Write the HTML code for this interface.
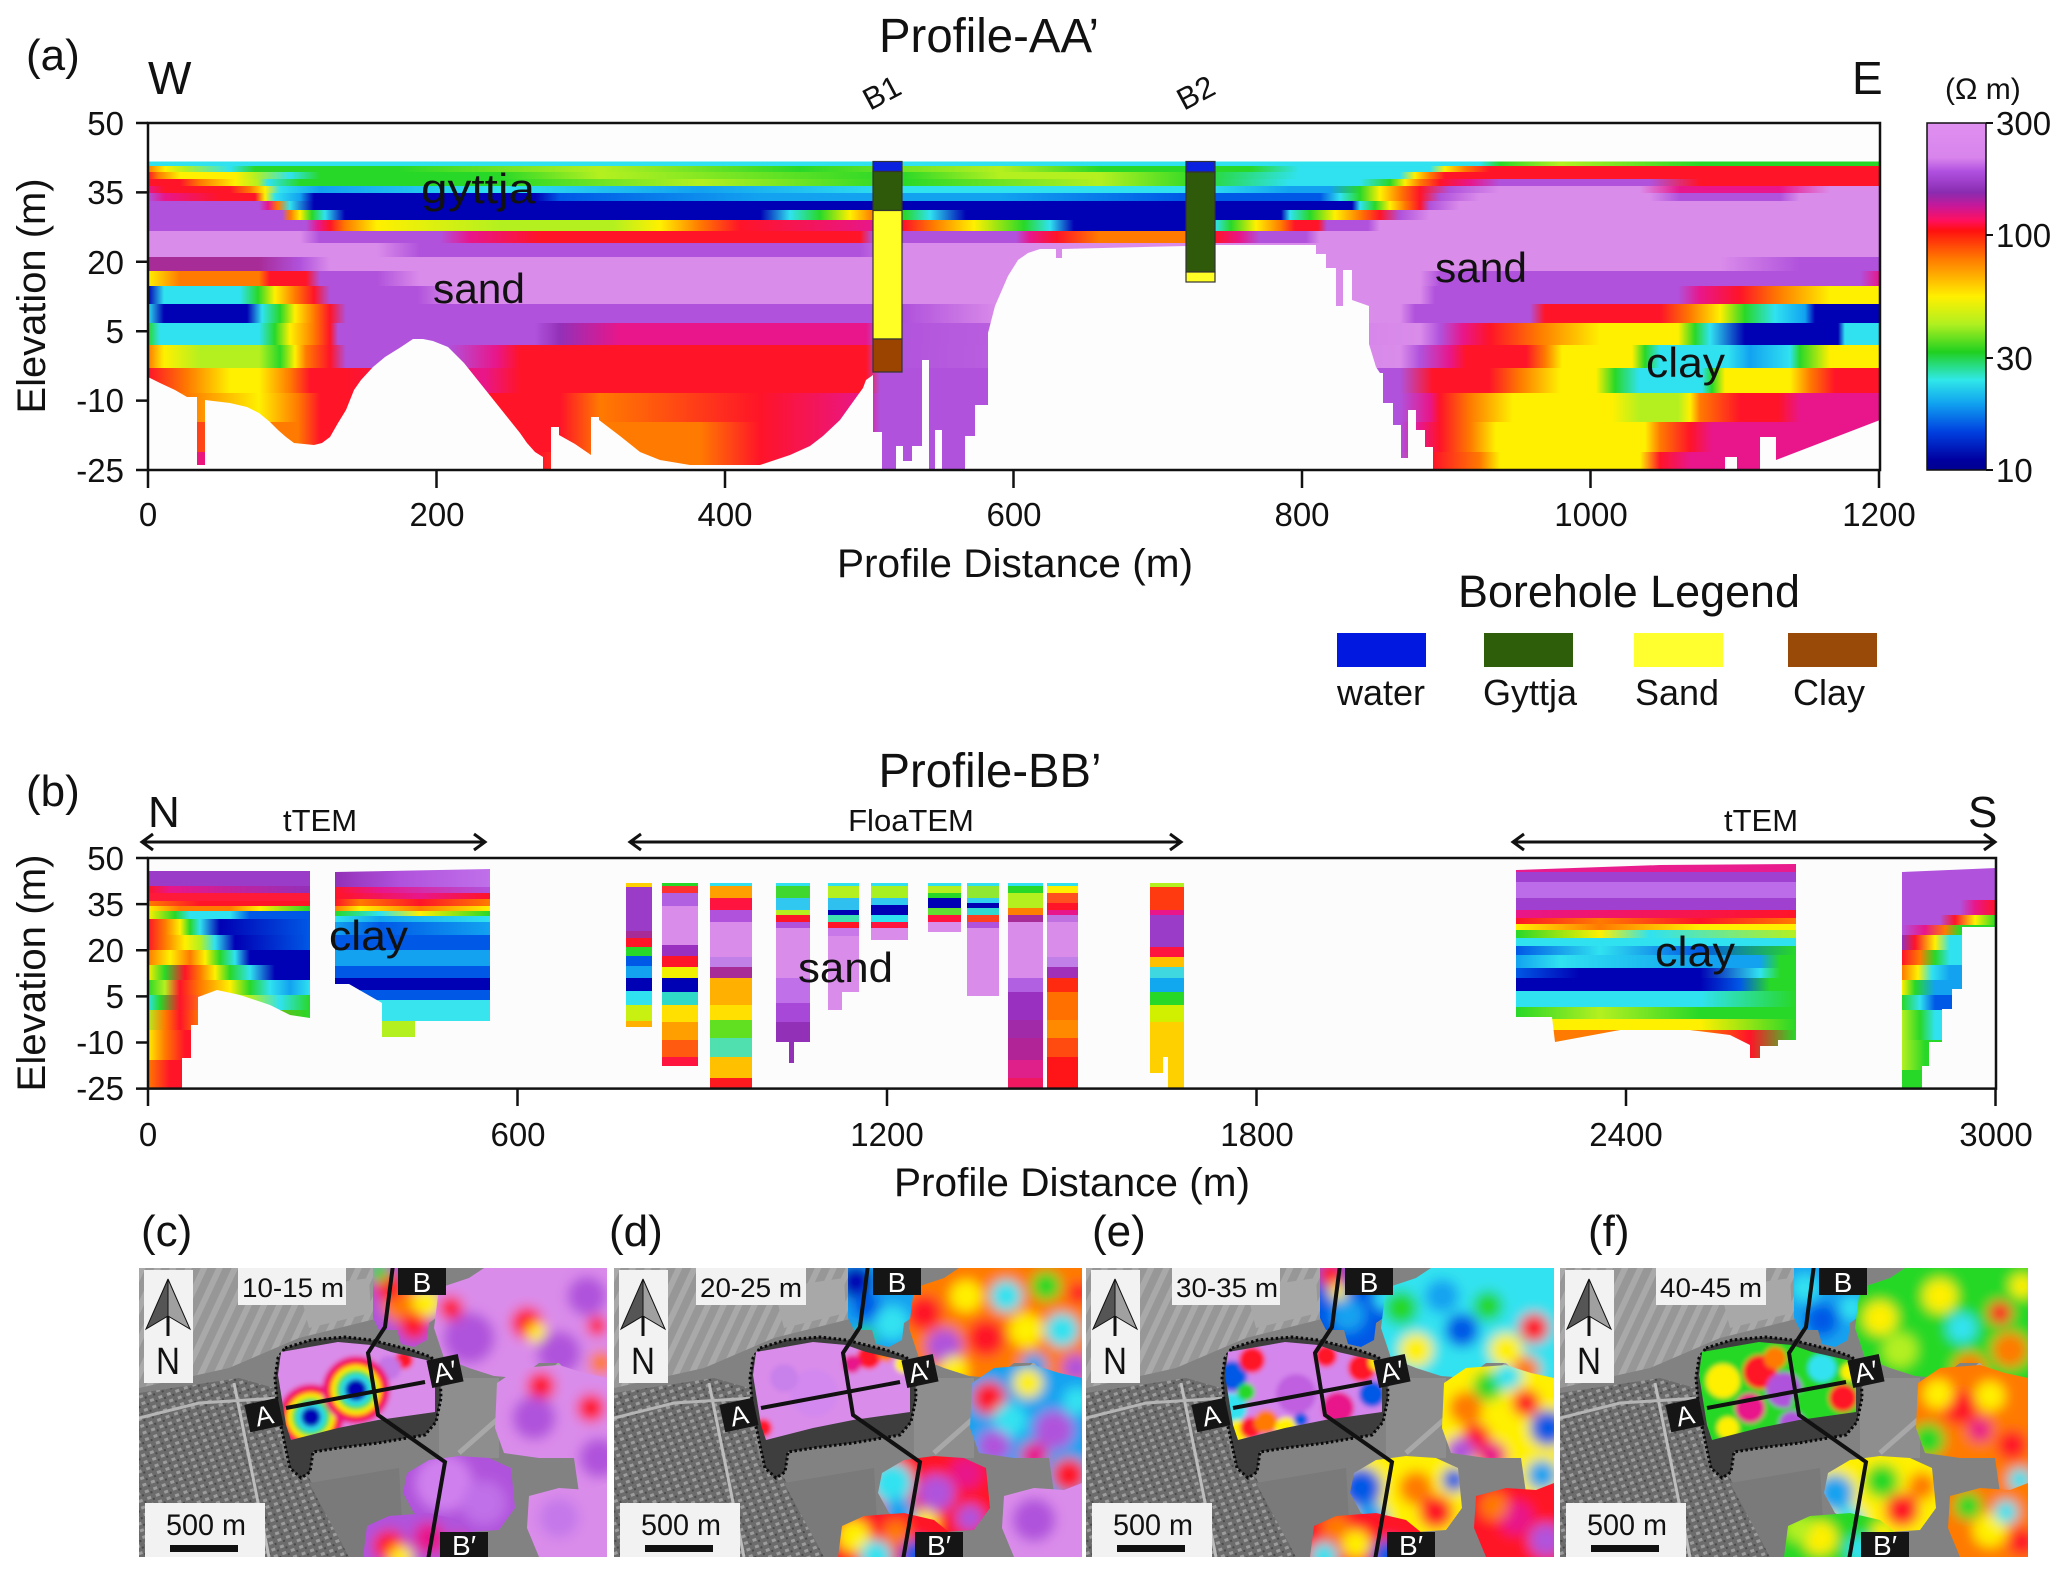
<!DOCTYPE html>
<html><head><meta charset="utf-8">
<style>
html,body{margin:0;padding:0;background:#fff;}
svg{display:block;}
.P{stop-color:#da8cea}.PU{stop-color:#b052dc}.DP{stop-color:#9330b8}.DM{stop-color:#a82c98}.MG{stop-color:#e8168a}.R{stop-color:#ff1428}.O{stop-color:#ff7a00}.Y{stop-color:#fff000}.YG{stop-color:#b4f020}.G{stop-color:#28d828}.C{stop-color:#30e2f0}.LB{stop-color:#12a2f0}.B{stop-color:#0058e6}.DB{stop-color:#0000b4}
text{font-family:"Liberation Sans",sans-serif;fill:#111;}
.w{fill:#fff;}
</style></head><body>
<svg width="2067" height="1578" viewBox="0 0 2067 1578" xmlns="http://www.w3.org/2000/svg" xmlns:xlink="http://www.w3.org/1999/xlink">
<defs>
<linearGradient id="a0" gradientUnits="userSpaceOnUse" x1="0" x2="2000" y1="0" y2="0"><stop offset=".074" class="C"/><stop offset=".74" class="C"/><stop offset=".75" class="G"/><stop offset=".78" class="YG"/><stop offset=".85" class="G"/><stop offset=".94" class="G"/></linearGradient>
<linearGradient id="a1" gradientUnits="userSpaceOnUse" x1="0" x2="2000" y1="0" y2="0"><stop offset=".074" class="O"/><stop offset=".0825" class="Y"/><stop offset=".0925" class="YG"/><stop offset=".115" class="C"/><stop offset=".1275" class="G"/><stop offset=".2" class="G"/><stop offset=".3" class="YG"/><stop offset=".4" class="G"/><stop offset=".5" class="YG"/><stop offset=".55" class="G"/><stop offset=".625" class="G"/><stop offset=".65" class="C"/><stop offset=".715" class="C"/><stop offset=".7225" class="Y"/><stop offset=".7325" class="O"/><stop offset=".745" class="R"/><stop offset=".94" class="R"/></linearGradient>
<linearGradient id="a2" gradientUnits="userSpaceOnUse" x1="0" x2="2000" y1="0" y2="0"><stop offset=".074" class="R"/><stop offset=".079" class="O"/><stop offset=".09" class="Y"/><stop offset=".1175" class="Y"/><stop offset=".1275" class="YG"/><stop offset=".145" class="C"/><stop offset=".16" class="G"/><stop offset=".25" class="G"/><stop offset=".3" class="YG"/><stop offset=".45" class="G"/><stop offset=".5" class="YG"/><stop offset=".55" class="YG"/><stop offset=".6" class="G"/><stop offset=".65" class="C"/><stop offset=".7" class="C"/><stop offset=".7075" class="Y"/><stop offset=".715" class="O"/><stop offset=".7225" class="R"/><stop offset=".94" class="R"/></linearGradient>
<linearGradient id="a3" gradientUnits="userSpaceOnUse" x1="0" x2="2000" y1="0" y2="0"><stop offset=".074" class="R"/><stop offset=".09" class="R"/><stop offset=".1" class="O"/><stop offset=".1175" class="Y"/><stop offset=".129" class="YG"/><stop offset=".134" class="C"/><stop offset=".15" class="G"/><stop offset=".25" class="G"/><stop offset=".35" class="YG"/><stop offset=".45" class="G"/><stop offset=".55" class="YG"/><stop offset=".6" class="G"/><stop offset=".645" class="C"/><stop offset=".68" class="C"/><stop offset=".695" class="G"/><stop offset=".7025" class="Y"/><stop offset=".71" class="O"/><stop offset=".72" class="R"/><stop offset=".735" class="MG"/><stop offset=".75" class="PU"/><stop offset=".825" class="PU"/><stop offset=".85" class="R"/><stop offset=".94" class="R"/></linearGradient>
<linearGradient id="a4" gradientUnits="userSpaceOnUse" x1="0" x2="2000" y1="0" y2="0"><stop offset=".074" class="MG"/><stop offset=".0825" class="R"/><stop offset=".115" class="R"/><stop offset=".125" class="O"/><stop offset=".1325" class="Y"/><stop offset=".14" class="C"/><stop offset=".16" class="LB"/><stop offset=".25" class="C"/><stop offset=".35" class="LB"/><stop offset=".45" class="C"/><stop offset=".6" class="C"/><stop offset=".645" class="LB"/><stop offset=".665" class="LB"/><stop offset=".68" class="G"/><stop offset=".69" class="Y"/><stop offset=".7" class="O"/><stop offset=".71" class="R"/><stop offset=".725" class="PU"/><stop offset=".75" class="P"/><stop offset=".82" class="P"/><stop offset=".84" class="MG"/><stop offset=".89" class="MG"/><stop offset=".915" class="P"/><stop offset=".94" class="P"/></linearGradient>
<linearGradient id="a5" gradientUnits="userSpaceOnUse" x1="0" x2="2000" y1="0" y2="0"><stop offset=".074" class="PU"/><stop offset=".0825" class="MG"/><stop offset=".11" class="R"/><stop offset=".1275" class="R"/><stop offset=".1325" class="Y"/><stop offset=".1375" class="C"/><stop offset=".15" class="LB"/><stop offset=".157" class="DB"/><stop offset=".2675" class="DB"/><stop offset=".28" class="B"/><stop offset=".38" class="LB"/><stop offset=".5" class="LB"/><stop offset=".593" class="B"/><stop offset=".66" class="B"/><stop offset=".67" class="C"/><stop offset=".68" class="G"/><stop offset=".69" class="Y"/><stop offset=".7" class="O"/><stop offset=".71" class="R"/><stop offset=".72" class="PU"/><stop offset=".74" class="P"/><stop offset=".825" class="P"/><stop offset=".84" class="PU"/><stop offset=".89" class="PU"/><stop offset=".9" class="P"/><stop offset=".94" class="P"/></linearGradient>
<linearGradient id="a6" gradientUnits="userSpaceOnUse" x1="0" x2="2000" y1="0" y2="0"><stop offset=".074" class="PU"/><stop offset=".1295" class="PU"/><stop offset=".134" class="MG"/><stop offset=".139" class="O"/><stop offset=".145" class="C"/><stop offset=".157" class="DB"/><stop offset=".676" class="DB"/><stop offset=".68" class="C"/><stop offset=".6875" class="G"/><stop offset=".695" class="Y"/><stop offset=".7025" class="O"/><stop offset=".71" class="R"/><stop offset=".715" class="PU"/><stop offset=".73" class="P"/><stop offset=".94" class="P"/></linearGradient>
<linearGradient id="a7" gradientUnits="userSpaceOnUse" x1="0" x2="2000" y1="0" y2="0"><stop offset=".074" class="PU"/><stop offset=".141" class="PU"/><stop offset=".145" class="O"/><stop offset=".15" class="Y"/><stop offset=".156" class="G"/><stop offset=".1625" class="C"/><stop offset=".1725" class="DB"/><stop offset=".38" class="DB"/><stop offset=".395" class="C"/><stop offset=".41" class="G"/><stop offset=".425" class="Y"/><stop offset=".4365" class="O"/><stop offset=".452" class="G"/><stop offset=".465" class="C"/><stop offset=".483" class="DB"/><stop offset=".6405" class="DB"/><stop offset=".645" class="C"/><stop offset=".655" class="G"/><stop offset=".6675" class="Y"/><stop offset=".68" class="O"/><stop offset=".69" class="R"/><stop offset=".7" class="PU"/><stop offset=".715" class="P"/><stop offset=".94" class="P"/></linearGradient>
<linearGradient id="a8" gradientUnits="userSpaceOnUse" x1="0" x2="2000" y1="0" y2="0"><stop offset=".074" class="PU"/><stop offset=".153" class="PU"/><stop offset=".159" class="MG"/><stop offset=".165" class="R"/><stop offset=".1725" class="O"/><stop offset=".1885" class="Y"/><stop offset=".25" class="YG"/><stop offset=".307" class="YG"/><stop offset=".33" class="Y"/><stop offset=".35" class="O"/><stop offset=".37" class="R"/><stop offset=".4365" class="MG"/><stop offset=".452" class="R"/><stop offset=".4665" class="O"/><stop offset=".487" class="Y"/><stop offset=".512" class="G"/><stop offset=".525" class="C"/><stop offset=".537" class="DB"/><stop offset=".593" class="DB"/><stop offset=".6075" class="C"/><stop offset=".6155" class="G"/><stop offset=".628" class="Y"/><stop offset=".6405" class="O"/><stop offset=".6475" class="R"/><stop offset=".659" class="R"/><stop offset=".6635" class="PU"/><stop offset=".684" class="PU"/><stop offset=".69" class="P"/><stop offset=".94" class="P"/></linearGradient>
<linearGradient id="a9" gradientUnits="userSpaceOnUse" x1="0" x2="2000" y1="0" y2="0"><stop offset=".074" class="P"/><stop offset=".15" class="P"/><stop offset=".16" class="PU"/><stop offset=".22" class="PU"/><stop offset=".235" class="MG"/><stop offset=".27" class="R"/><stop offset=".43" class="R"/><stop offset=".4365" class="PU"/><stop offset=".508" class="PU"/><stop offset=".515" class="MG"/><stop offset=".5285" class="R"/><stop offset=".5495" class="O"/><stop offset=".593" class="O"/><stop offset=".6075" class="R"/><stop offset=".62" class="MG"/><stop offset=".63" class="PU"/><stop offset=".653" class="PU"/><stop offset=".66" class="P"/><stop offset=".94" class="P"/></linearGradient>
<linearGradient id="a10" gradientUnits="userSpaceOnUse" x1="0" x2="2000" y1="0" y2="0"><stop offset=".074" class="P"/><stop offset=".1885" class="P"/><stop offset=".21" class="PU"/><stop offset=".43" class="PU"/><stop offset=".452" class="P"/><stop offset=".94" class="P"/></linearGradient>
<linearGradient id="a11" gradientUnits="userSpaceOnUse" x1="0" x2="2000" y1="0" y2="0"><stop offset=".074" class="DM"/><stop offset=".1295" class="DM"/><stop offset=".15" class="PU"/><stop offset=".165" class="P"/><stop offset=".86" class="P"/><stop offset=".9" class="PU"/><stop offset=".94" class="PU"/></linearGradient>
<linearGradient id="a12" gradientUnits="userSpaceOnUse" x1="0" x2="2000" y1="0" y2="0"><stop offset=".074" class="Y"/><stop offset=".09" class="O"/><stop offset=".1295" class="O"/><stop offset=".135" class="R"/><stop offset=".153" class="R"/><stop offset=".16" class="PU"/><stop offset=".1885" class="PU"/><stop offset=".21" class="P"/><stop offset=".71" class="P"/><stop offset=".72" class="PU"/><stop offset=".93" class="PU"/><stop offset=".94" class="MG"/></linearGradient>
<linearGradient id="a13" gradientUnits="userSpaceOnUse" x1="0" x2="2000" y1="0" y2="0"><stop offset=".074" class="DB"/><stop offset=".082" class="C"/><stop offset=".12" class="C"/><stop offset=".129" class="G"/><stop offset=".1375" class="Y"/><stop offset=".1475" class="O"/><stop offset=".157" class="R"/><stop offset=".165" class="PU"/><stop offset=".2085" class="PU"/><stop offset=".228" class="P"/><stop offset=".71" class="P"/><stop offset=".7175" class="PU"/><stop offset=".839" class="PU"/><stop offset=".85" class="MG"/><stop offset=".87" class="R"/><stop offset=".889" class="O"/><stop offset=".915" class="Y"/><stop offset=".94" class="Y"/></linearGradient>
<linearGradient id="a14" gradientUnits="userSpaceOnUse" x1="0" x2="2000" y1="0" y2="0"><stop offset=".074" class="C"/><stop offset=".082" class="DB"/><stop offset=".1235" class="DB"/><stop offset=".131" class="C"/><stop offset=".14" class="G"/><stop offset=".1475" class="Y"/><stop offset=".157" class="O"/><stop offset=".165" class="R"/><stop offset=".173" class="PU"/><stop offset=".452" class="PU"/><stop offset=".5" class="P"/><stop offset=".7" class="P"/><stop offset=".7075" class="PU"/><stop offset=".765" class="PU"/><stop offset=".7725" class="R"/><stop offset=".83" class="R"/><stop offset=".845" class="O"/><stop offset=".86" class="Y"/><stop offset=".8725" class="G"/><stop offset=".8875" class="C"/><stop offset=".9025" class="LB"/><stop offset=".9075" class="DB"/><stop offset=".94" class="DB"/></linearGradient>
<linearGradient id="a15" gradientUnits="userSpaceOnUse" x1="0" x2="2000" y1="0" y2="0"><stop offset=".074" class="G"/><stop offset=".08" class="C"/><stop offset=".1295" class="C"/><stop offset=".1375" class="G"/><stop offset=".145" class="Y"/><stop offset=".157" class="O"/><stop offset=".165" class="R"/><stop offset=".169" class="PU"/><stop offset=".2675" class="PU"/><stop offset=".28" class="DP"/><stop offset=".31" class="MG"/><stop offset=".433" class="MG"/><stop offset=".44" class="PU"/><stop offset=".71" class="P"/><stop offset=".72" class="PU"/><stop offset=".7315" class="MG"/><stop offset=".745" class="R"/><stop offset=".7695" class="O"/><stop offset=".8" class="Y"/><stop offset=".839" class="Y"/><stop offset=".8475" class="G"/><stop offset=".855" class="C"/><stop offset=".8725" class="DB"/><stop offset=".919" class="DB"/><stop offset=".9225" class="C"/><stop offset=".94" class="C"/></linearGradient>
<linearGradient id="a16" gradientUnits="userSpaceOnUse" x1="0" x2="2000" y1="0" y2="0"><stop offset=".074" class="O"/><stop offset=".082" class="Y"/><stop offset=".1" class="YG"/><stop offset=".1295" class="YG"/><stop offset=".14" class="G"/><stop offset=".1475" class="Y"/><stop offset=".153" class="O"/><stop offset=".165" class="R"/><stop offset=".173" class="PU"/><stop offset=".224" class="PU"/><stop offset=".248" class="MG"/><stop offset=".26" class="R"/><stop offset=".433" class="R"/><stop offset=".44" class="PU"/><stop offset=".7" class="P"/><stop offset=".71" class="PU"/><stop offset=".725" class="MG"/><stop offset=".733" class="R"/><stop offset=".763" class="R"/><stop offset=".7725" class="O"/><stop offset=".781" class="Y"/><stop offset=".816" class="Y"/><stop offset=".8225" class="G"/><stop offset=".83" class="C"/><stop offset=".864" class="C"/><stop offset=".875" class="LB"/><stop offset=".895" class="C"/><stop offset=".9" class="G"/><stop offset=".915" class="Y"/><stop offset=".94" class="Y"/></linearGradient>
<linearGradient id="a17" gradientUnits="userSpaceOnUse" x1="0" x2="2000" y1="0" y2="0"><stop offset=".074" class="R"/><stop offset=".0935" class="O"/><stop offset=".115" class="Y"/><stop offset=".1295" class="Y"/><stop offset=".145" class="O"/><stop offset=".155" class="R"/><stop offset=".173" class="R"/><stop offset=".242" class="MG"/><stop offset=".26" class="R"/><stop offset=".433" class="R"/><stop offset=".44" class="PU"/><stop offset=".7" class="PU"/><stop offset=".7165" class="R"/><stop offset=".7445" class="R"/><stop offset=".76" class="O"/><stop offset=".78" class="Y"/><stop offset=".798" class="Y"/><stop offset=".8075" class="G"/><stop offset=".8195" class="C"/><stop offset=".851" class="C"/><stop offset=".856" class="G"/><stop offset=".8625" class="Y"/><stop offset=".895" class="Y"/><stop offset=".905" class="O"/><stop offset=".9175" class="R"/><stop offset=".94" class="R"/></linearGradient>
<linearGradient id="a18" gradientUnits="userSpaceOnUse" x1="0" x2="2000" y1="0" y2="0"><stop offset=".074" class="O"/><stop offset=".0935" class="O"/><stop offset=".1295" class="Y"/><stop offset=".149" class="O"/><stop offset=".16" class="R"/><stop offset=".28" class="R"/><stop offset=".3" class="O"/><stop offset=".38" class="R"/><stop offset=".433" class="MG"/><stop offset=".44" class="PU"/><stop offset=".7" class="PU"/><stop offset=".715" class="MG"/><stop offset=".72" class="R"/><stop offset=".735" class="O"/><stop offset=".7565" class="Y"/><stop offset=".806" class="Y"/><stop offset=".82" class="YG"/><stop offset=".839" class="YG"/><stop offset=".845" class="Y"/><stop offset=".85" class="O"/><stop offset=".87" class="R"/><stop offset=".889" class="R"/><stop offset=".9" class="MG"/><stop offset=".94" class="MG"/></linearGradient>
<linearGradient id="a19" gradientUnits="userSpaceOnUse" x1="0" x2="2000" y1="0" y2="0"><stop offset=".074" class="R"/><stop offset=".1295" class="O"/><stop offset=".149" class="O"/><stop offset=".16" class="R"/><stop offset=".28" class="R"/><stop offset=".3" class="O"/><stop offset=".35" class="O"/><stop offset=".38" class="R"/><stop offset=".433" class="MG"/><stop offset=".44" class="PU"/><stop offset=".7" class="PU"/><stop offset=".71" class="MG"/><stop offset=".72" class="R"/><stop offset=".735" class="O"/><stop offset=".748" class="Y"/><stop offset=".8225" class="Y"/><stop offset=".83" class="O"/><stop offset=".845" class="R"/><stop offset=".856" class="MG"/><stop offset=".94" class="MG"/></linearGradient>
<linearGradient id="a20" gradientUnits="userSpaceOnUse" x1="0" x2="2000" y1="0" y2="0"><stop offset=".074" class="MG"/><stop offset=".27" class="R"/><stop offset=".3" class="O"/><stop offset=".35" class="O"/><stop offset=".38" class="R"/><stop offset=".433" class="MG"/><stop offset=".44" class="PU"/><stop offset=".7" class="PU"/><stop offset=".7165" class="R"/><stop offset=".74" class="O"/><stop offset=".75" class="Y"/><stop offset=".82" class="Y"/><stop offset=".83" class="R"/><stop offset=".845" class="MG"/><stop offset=".94" class="MG"/></linearGradient>

<linearGradient id="cb" x1="0" x2="0" y1="0" y2="1"><stop offset="0" stop-color="#e090f0"/><stop offset=".1" stop-color="#d884ec"/><stop offset=".14" stop-color="#b050e0"/><stop offset=".2" stop-color="#8a2cb0"/><stop offset=".24" stop-color="#c81898"/><stop offset=".28" stop-color="#ff1060"/><stop offset=".31" stop-color="#ff1010"/><stop offset=".39" stop-color="#ff7800"/><stop offset=".5" stop-color="#fff000"/><stop offset=".58" stop-color="#b0f020"/><stop offset=".66" stop-color="#20d020"/><stop offset=".74" stop-color="#30e8e8"/><stop offset=".81" stop-color="#10a0f0"/><stop offset=".89" stop-color="#0040e0"/><stop offset=".97" stop-color="#0000a0"/><stop offset="1" stop-color="#000090"/></linearGradient>

<linearGradient id="b1a" gradientUnits="userSpaceOnUse" x1="0" x2="2000" y1="0" y2="0"><stop offset=".074" class="R"/><stop offset=".085" class="MG"/><stop offset=".155" class="DP"/></linearGradient>
<linearGradient id="b1b" gradientUnits="userSpaceOnUse" x1="0" x2="2000" y1="0" y2="0"><stop offset=".074" class="O"/><stop offset=".1" class="R"/><stop offset=".155" class="R"/></linearGradient>
<linearGradient id="b1c" gradientUnits="userSpaceOnUse" x1="0" x2="2000" y1="0" y2="0"><stop offset=".074" class="Y"/><stop offset=".09" class="O"/><stop offset=".115" class="O"/><stop offset=".13" class="Y"/><stop offset=".155" class="G"/></linearGradient>
<linearGradient id="b1d" gradientUnits="userSpaceOnUse" x1="0" x2="2000" y1="0" y2="0"><stop offset=".074" class="Y"/><stop offset=".0875" class="G"/><stop offset=".095" class="C"/><stop offset=".115" class="C"/><stop offset=".125" class="B"/><stop offset=".155" class="B"/></linearGradient>
<linearGradient id="b1e" gradientUnits="userSpaceOnUse" x1="0" x2="2000" y1="0" y2="0"><stop offset=".074" class="R"/><stop offset=".0825" class="O"/><stop offset=".09" class="Y"/><stop offset=".095" class="G"/><stop offset=".1" class="C"/><stop offset=".11" class="DB"/><stop offset=".155" class="B"/></linearGradient>
<linearGradient id="b1f" gradientUnits="userSpaceOnUse" x1="0" x2="2000" y1="0" y2="0"><stop offset=".074" class="R"/><stop offset=".0825" class="O"/><stop offset=".0925" class="Y"/><stop offset=".1" class="YG"/><stop offset=".1075" class="C"/><stop offset=".1175" class="DB"/><stop offset=".155" class="B"/></linearGradient>
<linearGradient id="b1g" gradientUnits="userSpaceOnUse" x1="0" x2="2000" y1="0" y2="0"><stop offset=".074" class="O"/><stop offset=".085" class="Y"/><stop offset=".095" class="O"/><stop offset=".1025" class="Y"/><stop offset=".11" class="G"/><stop offset=".1175" class="C"/><stop offset=".125" class="DB"/><stop offset=".155" class="DB"/></linearGradient>
<linearGradient id="b1h" gradientUnits="userSpaceOnUse" x1="0" x2="2000" y1="0" y2="0"><stop offset=".074" class="Y"/><stop offset=".0825" class="G"/><stop offset=".0925" class="R"/><stop offset=".1" class="O"/><stop offset=".1075" class="Y"/><stop offset=".115" class="G"/><stop offset=".125" class="C"/><stop offset=".1375" class="DB"/><stop offset=".155" class="DB"/></linearGradient>
<linearGradient id="b1i" gradientUnits="userSpaceOnUse" x1="0" x2="2000" y1="0" y2="0"><stop offset=".074" class="G"/><stop offset=".0825" class="YG"/><stop offset=".09" class="R"/><stop offset=".1" class="O"/><stop offset=".115" class="Y"/><stop offset=".125" class="G"/><stop offset=".135" class="C"/><stop offset=".145" class="LB"/><stop offset=".155" class="C"/></linearGradient>
<linearGradient id="b1j" gradientUnits="userSpaceOnUse" x1="0" x2="2000" y1="0" y2="0"><stop offset=".074" class="C"/><stop offset=".08" class="G"/><stop offset=".09" class="R"/><stop offset=".115" class="Y"/><stop offset=".125" class="YG"/><stop offset=".14" class="C"/><stop offset=".155" class="G"/></linearGradient>
<linearGradient id="b1k" gradientUnits="userSpaceOnUse" x1="0" x2="2000" y1="0" y2="0"><stop offset=".074" class="YG"/><stop offset=".0825" class="O"/><stop offset=".09" class="R"/><stop offset=".1" class="O"/><stop offset=".155" class="G"/></linearGradient>
<linearGradient id="b1l" gradientUnits="userSpaceOnUse" x1="0" x2="2000" y1="0" y2="0"><stop offset=".074" class="Y"/><stop offset=".0825" class="O"/><stop offset=".0925" class="R"/></linearGradient>
<linearGradient id="b1m" gradientUnits="userSpaceOnUse" x1="0" x2="2000" y1="0" y2="0"><stop offset=".074" class="O"/><stop offset=".085" class="R"/></linearGradient>

<linearGradient id="b2a" gradientUnits="userSpaceOnUse" x1="0" x2="2000" y1="0" y2="0"><stop offset=".1675" class="DP"/><stop offset=".2" class="PU"/><stop offset=".245" stop-color="#c070ea"/></linearGradient>
<linearGradient id="b2b" gradientUnits="userSpaceOnUse" x1="0" x2="2000" y1="0" y2="0"><stop offset=".1675" class="R"/><stop offset=".19" class="MG"/><stop offset=".245" class="PU"/></linearGradient>
<linearGradient id="b2c" gradientUnits="userSpaceOnUse" x1="0" x2="2000" y1="0" y2="0"><stop offset=".1675" class="R"/><stop offset=".21" class="MG"/><stop offset=".245" class="R"/></linearGradient>
<linearGradient id="b2d" gradientUnits="userSpaceOnUse" x1="0" x2="2000" y1="0" y2="0"><stop offset=".1675" class="R"/><stop offset=".18" class="O"/><stop offset=".21" class="R"/><stop offset=".245" class="O"/></linearGradient>
<linearGradient id="b2e" gradientUnits="userSpaceOnUse" x1="0" x2="2000" y1="0" y2="0"><stop offset=".1675" class="O"/><stop offset=".18" class="Y"/><stop offset=".21" class="O"/><stop offset=".245" class="Y"/></linearGradient>
<linearGradient id="b2f" gradientUnits="userSpaceOnUse" x1="0" x2="2000" y1="0" y2="0"><stop offset=".1675" class="G"/><stop offset=".19" class="C"/><stop offset=".21" class="Y"/><stop offset=".245" class="G"/></linearGradient>
<linearGradient id="b2g" gradientUnits="userSpaceOnUse" x1="0" x2="2000" y1="0" y2="0"><stop offset=".1675" class="C"/><stop offset=".19" class="LB"/><stop offset=".245" class="C"/></linearGradient>
<linearGradient id="b2h" gradientUnits="userSpaceOnUse" x1="0" x2="2000" y1="0" y2="0"><stop offset=".1675" class="LB"/><stop offset=".19" class="B"/><stop offset=".245" class="LB"/></linearGradient>

<linearGradient id="b3e" gradientUnits="userSpaceOnUse" x1="0" x2="2000" y1="0" y2="0"><stop offset=".758" class="MG"/><stop offset=".898" class="R"/></linearGradient>
<linearGradient id="b3f" gradientUnits="userSpaceOnUse" x1="0" x2="2000" y1="0" y2="0"><stop offset=".758" class="R"/><stop offset=".8" class="O"/><stop offset=".85" class="R"/><stop offset=".898" class="O"/></linearGradient>
<linearGradient id="b3g" gradientUnits="userSpaceOnUse" x1="0" x2="2000" y1="0" y2="0"><stop offset=".758" class="Y"/><stop offset=".8" class="O"/><stop offset=".85" class="Y"/><stop offset=".898" class="Y"/></linearGradient>
<linearGradient id="b3h" gradientUnits="userSpaceOnUse" x1="0" x2="2000" y1="0" y2="0"><stop offset=".758" class="G"/><stop offset=".8" class="Y"/><stop offset=".825" class="C"/><stop offset=".898" class="YG"/></linearGradient>
<linearGradient id="b3j" gradientUnits="userSpaceOnUse" x1="0" x2="2000" y1="0" y2="0"><stop offset=".758" class="B"/><stop offset=".8" class="C"/><stop offset=".85" class="B"/><stop offset=".898" class="G"/></linearGradient>
<linearGradient id="b3k" gradientUnits="userSpaceOnUse" x1="0" x2="2000" y1="0" y2="0"><stop offset=".758" class="LB"/><stop offset=".78" class="C"/><stop offset=".85" class="LB"/><stop offset=".88" class="LB"/><stop offset=".89" class="G"/></linearGradient>
<linearGradient id="b3l" gradientUnits="userSpaceOnUse" x1="0" x2="2000" y1="0" y2="0"><stop offset=".758" class="B"/><stop offset=".79" class="DB"/><stop offset=".85" class="DB"/><stop offset=".88" class="C"/><stop offset=".89" class="G"/></linearGradient>
<linearGradient id="b3m" gradientUnits="userSpaceOnUse" x1="0" x2="2000" y1="0" y2="0"><stop offset=".758" class="DB"/><stop offset=".85" class="DB"/><stop offset=".87" class="B"/><stop offset=".885" class="G"/></linearGradient>
<linearGradient id="b3n" gradientUnits="userSpaceOnUse" x1="0" x2="2000" y1="0" y2="0"><stop offset=".758" class="C"/><stop offset=".85" class="C"/><stop offset=".898" class="G"/></linearGradient>
<linearGradient id="b3o" gradientUnits="userSpaceOnUse" x1="0" x2="2000" y1="0" y2="0"><stop offset=".758" class="G"/><stop offset=".8" class="YG"/><stop offset=".85" class="G"/><stop offset=".898" class="G"/></linearGradient>
<linearGradient id="b3p" gradientUnits="userSpaceOnUse" x1="0" x2="2000" y1="0" y2="0"><stop offset=".758" class="Y"/><stop offset=".85" class="Y"/><stop offset=".898" class="G"/></linearGradient>
<linearGradient id="b3q" gradientUnits="userSpaceOnUse" x1="0" x2="2000" y1="0" y2="0"><stop offset=".758" class="O"/><stop offset=".85" class="O"/><stop offset=".875" class="R"/><stop offset=".898" class="G"/></linearGradient>

<linearGradient id="b4b" gradientUnits="userSpaceOnUse" x1="0" x2="2000" y1="0" y2="0"><stop offset=".951" class="PU"/><stop offset=".98" class="PU"/><stop offset=".9875" class="MG"/><stop offset=".998" class="R"/></linearGradient>
<linearGradient id="b4c" gradientUnits="userSpaceOnUse" x1="0" x2="2000" y1="0" y2="0"><stop offset=".951" class="PU"/><stop offset=".97" class="PU"/><stop offset=".9775" class="R"/><stop offset=".9875" class="Y"/><stop offset=".998" class="G"/></linearGradient>
<linearGradient id="b4d" gradientUnits="userSpaceOnUse" x1="0" x2="2000" y1="0" y2="0"><stop offset=".951" class="PU"/><stop offset=".9625" class="MG"/><stop offset=".9725" class="O"/><stop offset=".98" class="G"/><stop offset=".998" class="G"/></linearGradient>
<linearGradient id="b4e" gradientUnits="userSpaceOnUse" x1="0" x2="2000" y1="0" y2="0"><stop offset=".951" class="DP"/><stop offset=".9575" class="R"/><stop offset=".9675" class="Y"/><stop offset=".975" class="C"/></linearGradient>
<linearGradient id="b4f" gradientUnits="userSpaceOnUse" x1="0" x2="2000" y1="0" y2="0"><stop offset=".951" class="R"/><stop offset=".96" class="O"/><stop offset=".9675" class="G"/><stop offset=".975" class="C"/></linearGradient>
<linearGradient id="b4g" gradientUnits="userSpaceOnUse" x1="0" x2="2000" y1="0" y2="0"><stop offset=".951" class="O"/><stop offset=".959" class="Y"/><stop offset=".966" class="C"/><stop offset=".975" class="LB"/></linearGradient>
<linearGradient id="b4h" gradientUnits="userSpaceOnUse" x1="0" x2="2000" y1="0" y2="0"><stop offset=".951" class="Y"/><stop offset=".9575" class="G"/><stop offset=".9675" class="LB"/></linearGradient>
<linearGradient id="b4i" gradientUnits="userSpaceOnUse" x1="0" x2="2000" y1="0" y2="0"><stop offset=".951" class="G"/><stop offset=".96" class="C"/><stop offset=".9675" class="B"/></linearGradient>
<linearGradient id="b4j" gradientUnits="userSpaceOnUse" x1="0" x2="2000" y1="0" y2="0"><stop offset=".951" class="YG"/><stop offset=".96" class="G"/><stop offset=".9675" class="C"/></linearGradient>
<linearGradient id="b4k" gradientUnits="userSpaceOnUse" x1="0" x2="2000" y1="0" y2="0"><stop offset=".951" class="YG"/><stop offset=".9625" class="G"/></linearGradient>

<clipPath id="bk1"><path d="M148,871 L310,871 L310,1018 L290,1015 L270,1005 L240,995 L217,990 L198,997 L198,1025 L191,1025 L191,1058 L182,1058 L182,1089 L148,1089 Z"/></clipPath>
<clipPath id="bk2"><path d="M335,872 L490,869 L490,1021 L415,1021 L415,1037 L382,1037 L382,1003 L349,984 L335,984 Z"/></clipPath>
<clipPath id="bk3"><path d="M1516,870 L1660,865 L1796,864 L1796,1040 L1778,1040 L1778,1046 L1760,1046 L1760,1058 L1750,1058 L1750,1045 L1730,1035 L1690,1030 L1620,1030 L1555,1042 L1552,1017 L1516,1017 Z"/></clipPath>
<clipPath id="bk4"><path d="M1902,872 L1996,868 L1996,927 L1962,927 L1962,989 L1952,989 L1952,1009 L1942,1009 L1942,1042 L1929,1042 L1929,1066 L1922,1066 L1922,1089 L1902,1089 Z"/></clipPath>

<clipPath id="mc"><rect x="0" y="0" width="468" height="289"/></clipPath>
<clipPath id="kL"><path d="M142,84 L199,74 L232,77 L252,84 L296,94 L296,144 L239,152 L199,160 L152,172 L147,157 L139,107 Z"/></clipPath>
<clipPath id="k1"><path d="M234,0 L300,0 L306,30 L300,48 L290,55 L288,72 L275,79 L262,76 L258,62 L240,62 L234,50 Z"/></clipPath>
<clipPath id="k2"><path d="M300,20 L330,10 L345,0 L468,0 L468,120 L440,115 L420,95 L400,95 L380,110 L355,108 L330,100 L305,90 L295,60 Z"/></clipPath>
<clipPath id="k3"><path d="M358,115 L380,100 L420,97 L445,105 L468,110 L468,228 L440,225 L435,190 L400,190 L365,185 L356,160 Z"/></clipPath>
<clipPath id="k4"><path d="M268,205 L290,192 L320,188 L350,190 L372,200 L376,240 L360,262 L330,264 L300,258 L275,245 L264,225 Z"/></clipPath>
<clipPath id="k5"><path d="M390,228 L420,220 L450,222 L468,215 L468,289 L400,289 L388,260 Z"/></clipPath>
<clipPath id="k6"><path d="M228,258 L250,248 L290,245 L320,252 L336,265 L336,289 L224,289 Z"/></clipPath>
<filter id="f5" x="-30%" y="-30%" width="160%" height="160%"><feGaussianBlur stdDeviation="6"/></filter>
<filter id="f2" x="-30%" y="-30%" width="160%" height="160%"><feGaussianBlur stdDeviation="2.5"/></filter>
<pattern id="urb" width="9" height="7" patternUnits="userSpaceOnUse" patternTransform="rotate(-20)"><rect width="9" height="7" fill="#6c6c6c"/><rect x="1" y="1" width="4" height="3" fill="#9c9c9c"/><rect x="6" y="4" width="2" height="2" fill="#4a4a4a"/></pattern>
<pattern id="fld" width="14" height="14" patternUnits="userSpaceOnUse" patternTransform="rotate(25)"><rect width="14" height="14" fill="#979797"/><rect width="6" height="14" fill="#a9a9a9"/></pattern>
<g id="aer">
<rect width="470" height="290" fill="#828282"/>
<path d="M0,0 H240 V50 L160,70 L90,100 L0,120 Z" fill="url(#fld)"/>
<path d="M160,20 L230,10 L232,45 L170,60 Z" fill="#a8a8a8"/>
<path d="M0,125 L100,110 L135,120 L145,190 L170,210 L215,289 L0,289 Z" fill="url(#urb)"/>
<path d="M170,215 L260,200 L265,289 L210,289 Z" fill="#7a7a7a"/>
<path d="M300,110 L360,110 L360,190 L300,190 Z" fill="#8e8e8e"/>
<path d="M95,115 L130,289" stroke="#bdbdbd" stroke-width="3" fill="none"/>
<path d="M0,150 L60,135 L140,130" stroke="#b5b5b5" stroke-width="3" fill="none"/>
<path d="M320,185 L468,55" stroke="#a8a8a8" stroke-width="5" fill="none"/>
<path d="M146,80 L172,72 L206,69 L232,72 L272,82 L292,89 L301,100 L302,130 L297,154 L286,167 L239,175 L199,180 L174,184 L171,204 L162,210 L151,200 L146,177 L139,144 L136,110 L139,90 Z" fill="#3e3e3e" stroke="#0a0a0a" stroke-width="3" stroke-dasharray="2.5 2.5"/>
</g>
<g id="ovl">
<path d="M147,140 L286,114" stroke="#111" stroke-width="4"/>
<path d="M254,-3 L246,59 L229,85 L239,147 L306,194 L289,292" fill="none" stroke="#111" stroke-width="4"/>
<rect x="5" y="2" width="49" height="113" fill="#f2f2f2"/>
<path d="M29,11 L7,61 L29,48 Z" fill="#555" stroke="#111" stroke-width="1"/>
<path d="M29,11 L51,61 L29,48 Z" fill="#a0a0a0" stroke="#111" stroke-width="1"/>
<path d="M29,48 L29,68" stroke="#111" stroke-width="3"/>
<rect x="6" y="235" width="120" height="56" fill="#f2f2f2"/>
<rect x="31" y="277" width="68" height="7" fill="#111"/>
<rect x="259" y="0" width="48" height="27" fill="#151515"/>
<rect x="301" y="264" width="48" height="27" fill="#151515"/>
<rect x="108" y="133" width="34" height="28" fill="#151515" transform="rotate(-12 125 147)"/>
<rect x="290" y="89" width="32" height="28" fill="#151515" transform="rotate(-12 306 103)"/>
</g>
</defs>

<rect width="2067" height="1578" fill="#fff"/>

<!-- ================= PANEL A ================= -->
<rect x="148" y="123" width="1732" height="347" fill="#fdfdfd"/>
<rect x="148" y="161.5" width="1732" height="5" fill="url(#a0)"/>
<rect x="148" y="166" width="1732" height="6.5" fill="url(#a1)"/>
<rect x="148" y="172" width="1732" height="7.5" fill="url(#a2)"/>
<rect x="148" y="179" width="1732" height="7.5" fill="url(#a3)"/>
<rect x="148" y="186" width="1732" height="7.5" fill="url(#a4)"/>
<rect x="148" y="193" width="1732" height="8.5" fill="url(#a5)"/>
<rect x="148" y="201" width="1732" height="9.5" fill="url(#a6)"/>
<rect x="148" y="210" width="1732" height="10.5" fill="url(#a7)"/>
<rect x="148" y="220" width="1732" height="11.5" fill="url(#a8)"/>
<rect x="148" y="231" width="1732" height="12.5" fill="url(#a9)"/>
<rect x="148" y="243" width="1732" height="14.5" fill="url(#a10)"/>
<rect x="148" y="257" width="1732" height="14.5" fill="url(#a11)"/>
<rect x="148" y="271" width="1732" height="15.5" fill="url(#a12)"/>
<rect x="148" y="286" width="1732" height="18.5" fill="url(#a13)"/>
<rect x="148" y="304" width="1732" height="19.5" fill="url(#a14)"/>
<rect x="148" y="323" width="1732" height="22.5" fill="url(#a15)"/>
<rect x="148" y="345" width="1732" height="23.5" fill="url(#a16)"/>
<rect x="148" y="368" width="1732" height="25.5" fill="url(#a17)"/>
<rect x="148" y="393" width="1732" height="29.5" fill="url(#a18)"/>
<rect x="148" y="422" width="1732" height="30.5" fill="url(#a19)"/>
<rect x="148" y="452" width="1732" height="18" fill="url(#a20)"/>
<path fill="#fdfdfd" d="M148,377 L160,383 L175,390 L187,397 L197,397 L197,465 L205,465 L205,400 L230,403 L247,407 L259,413 L270,422 L278,430 L286,437 L294,443 L314,445 L322,443 L330,437 L338,423 L346,410 L354,390 L361,380 L373,367 L385,357 L401,347 L413,339 L423,339 L433,341 L448,347 L456,355 L464,363 L472,373 L480,383 L488,393 L496,403 L504,413 L512,423 L520,433 L527,443 L535,452 L543,457 L543,469 L551,469 L551,427 L559,427 L559,435 L575,444 L591,455 L591,417 L599,417 L599,420 L620,436 L640,452 L660,460 L690,465 L760,465 L790,455 L810,446 L823,436 L840,420 L850,406 L863,388 L866,380 L873,375 L873,432 L882,432 L882,469 L896,469 L896,446 L903,446 L903,461 L912,461 L912,446 L922,446 L922,360 L929,360 L929,469 L935,469 L935,430 L942,430 L942,469 L965,469 L965,436 L975,436 L975,405 L988,405 L988,333 L995,306 L1008,276 L1018,260 L1028,253 L1040,249 L1056,249 L1056,258 L1062,258 L1062,249 L1186,246 L1217,245 L1316,245 L1316,254 L1326,254 L1326,268 L1336,268 L1336,306 L1343,306 L1343,270 L1352,270 L1352,300 L1369,306 L1369,344 L1376,367 L1380,373 L1383,373 L1383,403 L1393,403 L1393,425 L1401,425 L1401,458 L1408,458 L1408,410 L1416,410 L1416,430 L1425,430 L1425,447 L1433,447 L1433,469 L1725,469 L1725,457 L1737,457 L1737,469 L1760,469 L1760,437 L1776,437 L1776,460 L1880,420 L1880,471 L148,471 Z"/>
<g stroke="#333" stroke-width="1.2">
<rect x="873" y="161.5" width="29" height="10" fill="#0a22e0"/>
<rect x="873" y="171.5" width="29" height="39" fill="#2f5a0a"/>
<rect x="873" y="210.5" width="29" height="128.5" fill="#ffff26"/>
<rect x="873" y="339" width="29" height="33" fill="#9a4400"/>
<rect x="1186" y="161.5" width="29" height="10.5" fill="#0a22e0"/>
<rect x="1186" y="172" width="29" height="100" fill="#2f5a0a"/>
<rect x="1186" y="272" width="29" height="10" fill="#ffff26"/>
</g>
<text x="421" y="203" font-size="42" textLength="114" lengthAdjust="spacingAndGlyphs">gyttja</text>
<text x="433" y="303" font-size="42" textLength="92" lengthAdjust="spacingAndGlyphs">sand</text>
<text x="1435" y="282" font-size="42" textLength="92" lengthAdjust="spacingAndGlyphs">sand</text>
<text x="1646" y="377" font-size="42" textLength="79" lengthAdjust="spacingAndGlyphs">clay</text>
<rect x="148" y="123" width="1732" height="347" fill="none" stroke="#111" stroke-width="2.5"/>
<g stroke="#111" stroke-width="2.5">
<path d="M136,123H148M136,192.4H148M136,261.8H148M136,331.2H148M136,400.6H148M136,470H148"/>
<path d="M148,470V488M436.5,470V488M725,470V488M1013.5,470V488M1302,470V488M1590.5,470V488M1879,470V488"/>
</g>
<g font-size="33" text-anchor="end">
<text x="124" y="135">50</text><text x="124" y="204">35</text><text x="124" y="274">20</text><text x="124" y="343">5</text><text x="124" y="412">-10</text><text x="124" y="482">-25</text>
</g>
<g font-size="33" text-anchor="middle">
<text x="148" y="526">0</text><text x="437" y="526">200</text><text x="725" y="526">400</text><text x="1014" y="526">600</text><text x="1302" y="526">800</text><text x="1591" y="526">1000</text><text x="1879" y="526">1200</text>
</g>
<text x="1015" y="577" font-size="40" text-anchor="middle" textLength="356" lengthAdjust="spacingAndGlyphs">Profile Distance (m)</text>
<text transform="translate(45,296) rotate(-90)" font-size="40" text-anchor="middle" textLength="235" lengthAdjust="spacingAndGlyphs">Elevation (m)</text>
<text x="989" y="52" font-size="48" text-anchor="middle" textLength="220" lengthAdjust="spacingAndGlyphs">Profile-AA’</text>
<text x="26" y="70" font-size="44">(a)</text>
<text x="148" y="94" font-size="46">W</text>
<text x="1852" y="94" font-size="46">E</text>
<text transform="translate(870,111) rotate(-28)" font-size="31">B1</text>
<text transform="translate(1184,111) rotate(-28)" font-size="31">B2</text>
<rect x="1927" y="123" width="59" height="347" fill="url(#cb)" stroke="#111" stroke-width="1.5"/>
<path d="M1986,123H1993M1986,235H1993M1986,358H1993M1986,470H1993" stroke="#111" stroke-width="2"/>
<g font-size="33"><text x="1996" y="135">300</text><text x="1996" y="247">100</text><text x="1996" y="370">30</text><text x="1996" y="482">10</text></g>
<text x="1945" y="99" font-size="30">(Ω m)</text>

<text x="1629" y="607" font-size="45" text-anchor="middle" textLength="342" lengthAdjust="spacingAndGlyphs">Borehole Legend</text>
<rect x="1337" y="633" width="89" height="34" fill="#0018e0"/>
<rect x="1484" y="633" width="89" height="34" fill="#2f5e0a"/>
<rect x="1634" y="633" width="89" height="34" fill="#ffff30"/>
<rect x="1788" y="633" width="89" height="34" fill="#9a4a08"/>
<g font-size="36" text-anchor="middle">
<text x="1381" y="705">water</text><text x="1530" y="705">Gyttja</text><text x="1677" y="705">Sand</text><text x="1829" y="705">Clay</text>
</g>

<!-- ================= PANEL B ================= -->
<rect x="148" y="858" width="1848" height="230.6" fill="#fcfcfc"/>
<g clip-path="url(#bk1)">
<rect x="148" y="864" width="162" height="23" fill="#9a3cc8"/>
<rect x="148" y="886" width="162" height="7.5" fill="url(#b1a)"/>
<rect x="148" y="893" width="162" height="8.5" fill="#ff1a3a"/>
<rect x="148" y="901" width="162" height="5.5" fill="url(#b1b)"/>
<rect x="148" y="906" width="162" height="5.5" fill="url(#b1c)"/>
<rect x="148" y="911" width="162" height="8.5" fill="url(#b1d)"/>
<rect x="148" y="919" width="162" height="16.5" fill="url(#b1e)"/>
<rect x="148" y="935" width="162" height="15.5" fill="url(#b1f)"/>
<rect x="148" y="950" width="162" height="15.5" fill="url(#b1g)"/>
<rect x="148" y="965" width="162" height="15.5" fill="url(#b1h)"/>
<rect x="148" y="980" width="162" height="15.5" fill="url(#b1i)"/>
<rect x="148" y="995" width="162" height="15.5" fill="url(#b1j)"/>
<rect x="148" y="1010" width="162" height="20.5" fill="url(#b1k)"/>
<rect x="148" y="1030" width="162" height="30.5" fill="url(#b1l)"/>
<rect x="148" y="1060" width="162" height="30" fill="url(#b1m)"/>
</g>
<g clip-path="url(#bk2)">
<rect x="335" y="864" width="155" height="23.5" fill="url(#b2a)"/>
<rect x="335" y="887" width="155" height="6.5" fill="url(#b2b)"/>
<rect x="335" y="893" width="155" height="6.5" fill="url(#b2c)"/>
<rect x="335" y="899" width="155" height="7.5" fill="url(#b2d)"/>
<rect x="335" y="906" width="155" height="5.5" fill="url(#b2e)"/>
<rect x="335" y="911" width="155" height="5.5" fill="url(#b2f)"/>
<rect x="335" y="916" width="155" height="6.5" fill="url(#b2g)"/>
<rect x="335" y="922" width="155" height="13.5" fill="url(#b2h)"/>
<rect x="335" y="935" width="155" height="15.5" fill="#0058e6"/>
<rect x="335" y="950" width="155" height="16.5" fill="#12a2f0"/>
<rect x="335" y="966" width="155" height="12.5" fill="#0058e6"/>
<rect x="335" y="978" width="155" height="12.5" fill="#0000b4"/>
<rect x="335" y="990" width="155" height="10.5" fill="#0058e6"/>
<rect x="335" y="1000" width="155" height="21.5" fill="#38e4ee"/>
<rect x="335" y="1021" width="155" height="17" fill="#b4f020"/>
</g>
<text x="329" y="950" font-size="42" textLength="79" lengthAdjust="spacingAndGlyphs">clay</text>
<g>
<rect x="626" y="883" width="26" height="4" fill="#ffd000"/><rect x="626" y="887" width="26" height="44" fill="#9a3cc8"/><rect x="626" y="931" width="26" height="7" fill="#a82c98"/><rect x="626" y="938" width="26" height="9" fill="#ff1428"/><rect x="626" y="947" width="26" height="9" fill="#28d828"/><rect x="626" y="956" width="26" height="10" fill="#0058e6"/><rect x="626" y="966" width="26" height="12" fill="#12a2f0"/><rect x="626" y="978" width="26" height="13" fill="#0000b4"/><rect x="626" y="991" width="26" height="14" fill="#30e2f0"/><rect x="626" y="1005" width="26" height="16" fill="#c8f010"/><rect x="626" y="1021" width="26" height="6" fill="#ffb000"/>
<rect x="662" y="883" width="36" height="3" fill="#28d828"/><rect x="662" y="886" width="36" height="7" fill="#ff3030"/><rect x="662" y="893" width="36" height="13" fill="#b060e0"/><rect x="662" y="906" width="36" height="39" fill="#da8cea"/><rect x="662" y="945" width="36" height="11" fill="#9a30c0"/><rect x="662" y="956" width="36" height="11" fill="#ff1428"/><rect x="662" y="967" width="36" height="11" fill="#f0f000"/><rect x="662" y="978" width="36" height="14" fill="#0000b4"/><rect x="662" y="992" width="36" height="13" fill="#30d8c8"/><rect x="662" y="1005" width="36" height="17" fill="#ffe000"/><rect x="662" y="1022" width="36" height="18" fill="#ffa000"/><rect x="662" y="1040" width="36" height="17" fill="#ff5a10"/><rect x="662" y="1057" width="36" height="9" fill="#ff1440"/>
<rect x="710" y="883" width="42" height="3" fill="#30e2f0"/><rect x="710" y="886" width="42" height="12" fill="#ffa000"/><rect x="710" y="898" width="42" height="12" fill="#ff1440"/><rect x="710" y="910" width="42" height="12" fill="#b052dc"/><rect x="710" y="922" width="42" height="35" fill="#da8cea"/><rect x="710" y="957" width="42" height="10" fill="#c080e8"/><rect x="710" y="967" width="42" height="11" fill="#a82c98"/><rect x="710" y="978" width="42" height="27" fill="#ffb000"/><rect x="710" y="1005" width="42" height="15" fill="#ffe000"/><rect x="710" y="1020" width="42" height="18" fill="#60e020"/><rect x="710" y="1038" width="42" height="19" fill="#50e0b0"/><rect x="710" y="1057" width="42" height="21" fill="#ffc000"/><rect x="710" y="1078" width="42" height="11" fill="#ff1a20"/>
<rect x="776" y="883" width="34" height="3" fill="#30e2f0"/><rect x="776" y="886" width="34" height="12" fill="#40d830"/><rect x="776" y="898" width="34" height="12" fill="#30c8f0"/><rect x="776" y="910" width="34" height="5" fill="#b4f020"/><rect x="776" y="915" width="34" height="7" fill="#ff1428"/><rect x="776" y="922" width="34" height="6" fill="#b052dc"/><rect x="776" y="928" width="34" height="50" fill="#da8cea"/><rect x="776" y="978" width="34" height="25" fill="#c070e8"/><rect x="776" y="1003" width="34" height="19" fill="#a848d8"/><rect x="776" y="1022" width="34" height="20" fill="#9330b8"/><rect x="789" y="1042" width="5" height="21" fill="#9330b8"/>
<rect x="828" y="883" width="31" height="3" fill="#30e2f0"/><rect x="828" y="886" width="31" height="12" fill="#b4f020"/><rect x="828" y="898" width="31" height="12" fill="#30c0f0"/><rect x="828" y="910" width="31" height="5" fill="#0000b4"/><rect x="828" y="915" width="31" height="7" fill="#40e0b0"/><rect x="828" y="922" width="31" height="6" fill="#ff1428"/><rect x="828" y="928" width="31" height="8" fill="#c878e8"/><rect x="828" y="936" width="31" height="56" fill="#da8cea"/><rect x="828" y="992" width="14" height="18" fill="#da8cea"/>
<rect x="871" y="883" width="37" height="3" fill="#30e2f0"/><rect x="871" y="886" width="37" height="12" fill="#a8f020"/><rect x="871" y="898" width="37" height="7" fill="#30c8f0"/><rect x="871" y="905" width="37" height="10" fill="#0000b4"/><rect x="871" y="915" width="37" height="7" fill="#30e2f0"/><rect x="871" y="922" width="37" height="6" fill="#ff1440"/><rect x="871" y="928" width="37" height="12" fill="#da8cea"/>
<rect x="928" y="883" width="33" height="3" fill="#30e2f0"/><rect x="928" y="886" width="33" height="7" fill="#b4f020"/><rect x="928" y="893" width="33" height="5" fill="#28d828"/><rect x="928" y="898" width="33" height="10" fill="#0000b4"/><rect x="928" y="908" width="33" height="7" fill="#60e030"/><rect x="928" y="915" width="33" height="7" fill="#ff1440"/><rect x="928" y="922" width="33" height="10" fill="#da8cea"/>
<rect x="967" y="883" width="32" height="3" fill="#30e2f0"/><rect x="967" y="886" width="32" height="12" fill="#90e830"/><rect x="967" y="898" width="32" height="5" fill="#30d0f0"/><rect x="967" y="903" width="32" height="5" fill="#0000b4"/><rect x="967" y="908" width="32" height="7" fill="#30d8d0"/><rect x="967" y="915" width="32" height="7" fill="#ff4020"/><rect x="967" y="922" width="32" height="6" fill="#b052dc"/><rect x="967" y="928" width="32" height="68" fill="#da8cea"/>
<rect x="1008" y="883" width="35" height="3" fill="#30e2f0"/><rect x="1008" y="886" width="35" height="7" fill="#28d828"/><rect x="1008" y="893" width="35" height="15" fill="#b4f020"/><rect x="1008" y="908" width="35" height="7" fill="#ff8000"/><rect x="1008" y="915" width="35" height="7" fill="#a82c98"/><rect x="1008" y="922" width="35" height="56" fill="#da8cea"/><rect x="1008" y="978" width="35" height="14" fill="#b060e0"/><rect x="1008" y="992" width="35" height="28" fill="#9a30c0"/><rect x="1008" y="1020" width="35" height="18" fill="#a02aa8"/><rect x="1008" y="1038" width="35" height="22" fill="#b02498"/><rect x="1008" y="1060" width="35" height="18" fill="#e0208a"/><rect x="1008" y="1078" width="35" height="11" fill="#f01860"/>
<rect x="1047" y="883" width="31" height="3" fill="#30e2f0"/><rect x="1047" y="886" width="31" height="7" fill="#fff000"/><rect x="1047" y="893" width="31" height="10" fill="#ff5020"/><rect x="1047" y="903" width="31" height="7" fill="#ff1428"/><rect x="1047" y="910" width="31" height="5" fill="#e8168a"/><rect x="1047" y="915" width="31" height="7" fill="#c070e0"/><rect x="1047" y="922" width="31" height="35" fill="#da8cea"/><rect x="1047" y="957" width="31" height="10" fill="#c080e8"/><rect x="1047" y="967" width="31" height="11" fill="#a030b8"/><rect x="1047" y="978" width="31" height="14" fill="#ff2a10"/><rect x="1047" y="992" width="31" height="28" fill="#ff7000"/><rect x="1047" y="1020" width="31" height="18" fill="#ff8a00"/><rect x="1047" y="1038" width="31" height="19" fill="#ff4a10"/><rect x="1047" y="1057" width="31" height="32" fill="#ff1418"/>
<rect x="1150" y="883" width="34" height="4" fill="#b4f020"/><rect x="1150" y="887" width="34" height="23" fill="#ff3a10"/><rect x="1150" y="910" width="34" height="5" fill="#e8168a"/><rect x="1150" y="915" width="34" height="32" fill="#9a3cc8"/><rect x="1150" y="947" width="34" height="10" fill="#ff1440"/><rect x="1150" y="957" width="34" height="10" fill="#ffc000"/><rect x="1150" y="967" width="34" height="11" fill="#40d8e0"/><rect x="1150" y="978" width="34" height="14" fill="#12a8f0"/><rect x="1150" y="992" width="34" height="13" fill="#28d828"/><rect x="1150" y="1005" width="34" height="17" fill="#d0f000"/><rect x="1150" y="1022" width="34" height="35" fill="#ffd000"/><rect x="1150" y="1057" width="13" height="16" fill="#ffd000"/><rect x="1168" y="1057" width="16" height="32" fill="#ffd000"/>
</g>
<text x="798" y="982" font-size="42" textLength="95" lengthAdjust="spacingAndGlyphs">sand</text>
<g clip-path="url(#bk3)">
<rect x="1516" y="860" width="280" height="12.5" fill="#e81c8c"/>
<rect x="1516" y="872" width="280" height="10.5" fill="#a040d0"/>
<rect x="1516" y="882" width="280" height="16.5" fill="#bc6ce8"/>
<rect x="1516" y="898" width="280" height="12.5" fill="#a040d0"/>
<rect x="1516" y="910" width="280" height="8.5" fill="url(#b3e)"/>
<rect x="1516" y="918" width="280" height="6.5" fill="url(#b3f)"/>
<rect x="1516" y="924" width="280" height="6.5" fill="url(#b3g)"/>
<rect x="1516" y="930" width="280" height="8.5" fill="url(#b3h)"/>
<rect x="1516" y="938" width="280" height="8.5" fill="#30e2f0"/>
<rect x="1516" y="946" width="280" height="9.5" fill="url(#b3j)"/>
<rect x="1516" y="955" width="280" height="13.5" fill="url(#b3k)"/>
<rect x="1516" y="968" width="280" height="10.5" fill="url(#b3l)"/>
<rect x="1516" y="978" width="280" height="13.5" fill="url(#b3m)"/>
<rect x="1516" y="991" width="280" height="16.5" fill="url(#b3n)"/>
<rect x="1516" y="1007" width="280" height="12.5" fill="url(#b3o)"/>
<rect x="1516" y="1019" width="280" height="11.5" fill="url(#b3p)"/>
<rect x="1516" y="1030" width="280" height="30" fill="url(#b3q)"/>
</g>
<text x="1655" y="966" font-size="42" textLength="80" lengthAdjust="spacingAndGlyphs">clay</text>
<g clip-path="url(#bk4)">
<rect x="1902" y="865" width="94" height="35.5" fill="#b052dc"/>
<rect x="1902" y="900" width="94" height="15.5" fill="url(#b4b)"/>
<rect x="1902" y="915" width="94" height="10.5" fill="url(#b4c)"/>
<rect x="1902" y="925" width="94" height="10.5" fill="url(#b4d)"/>
<rect x="1902" y="935" width="94" height="15.5" fill="url(#b4e)"/>
<rect x="1902" y="950" width="94" height="15.5" fill="url(#b4f)"/>
<rect x="1902" y="965" width="94" height="15.5" fill="url(#b4g)"/>
<rect x="1902" y="980" width="94" height="15.5" fill="url(#b4h)"/>
<rect x="1902" y="995" width="94" height="15.5" fill="url(#b4i)"/>
<rect x="1902" y="1010" width="94" height="30.5" fill="url(#b4j)"/>
<rect x="1902" y="1040" width="94" height="30.5" fill="url(#b4k)"/>
<rect x="1902" y="1070" width="94" height="20" fill="#28d828"/>
</g>
<rect x="148" y="858" width="1848" height="230.6" fill="none" stroke="#111" stroke-width="2.5"/>
<g stroke="#111" stroke-width="2.5">
<path d="M136,858H148M136,904.1H148M136,950.3H148M136,996.4H148M136,1042.5H148M136,1088.6H148"/>
<path d="M148,1088V1106M517.5,1088V1106M887,1088V1106M1256.5,1088V1106M1626,1088V1106M1995.5,1088V1106"/>
</g>
<g font-size="33" text-anchor="end">
<text x="124" y="870">50</text><text x="124" y="916">35</text><text x="124" y="962">20</text><text x="124" y="1008">5</text><text x="124" y="1054">-10</text><text x="124" y="1100">-25</text>
</g>
<g font-size="33" text-anchor="middle">
<text x="148" y="1146">0</text><text x="518" y="1146">600</text><text x="887" y="1146">1200</text><text x="1257" y="1146">1800</text><text x="1626" y="1146">2400</text><text x="1996" y="1146">3000</text>
</g>
<text x="1072" y="1196" font-size="40" text-anchor="middle" textLength="356" lengthAdjust="spacingAndGlyphs">Profile Distance (m)</text>
<text transform="translate(45,973) rotate(-90)" font-size="40" text-anchor="middle" textLength="237" lengthAdjust="spacingAndGlyphs">Elevation (m)</text>
<text x="990" y="787" font-size="48" text-anchor="middle" textLength="223" lengthAdjust="spacingAndGlyphs">Profile-BB’</text>
<text x="26" y="806" font-size="44">(b)</text>
<text x="148" y="827" font-size="44">N</text>
<text x="1968" y="827" font-size="44">S</text>
<g stroke="#111" stroke-width="3" fill="none">
<path d="M142,842H485M153,834L142,842L153,850M474,834L485,842L474,850"/>
<path d="M630,842H1181M641,834L630,842L641,850M1170,834L1181,842L1170,850"/>
<path d="M1513,842H1995M1524,834L1513,842L1524,850M1984,834L1995,842L1984,850"/>
</g>
<g font-size="31" text-anchor="middle">
<text x="320" y="831">tTEM</text><text x="911" y="831">FloaTEM</text><text x="1761" y="831">tTEM</text>
</g>

<!-- ================= MAPS ================= -->
<g font-size="44"><text x="141" y="1246">(c)</text><text x="609" y="1246">(d)</text><text x="1092" y="1246">(e)</text><text x="1588" y="1246">(f)</text></g>

<!-- panel c -->
<g transform="translate(139,1268)"><g clip-path="url(#mc)">
<use href="#aer" xlink:href="#aer"/>
<g clip-path="url(#kL)"><g filter="url(#f2)">
<rect x="125" y="60" width="185" height="130" fill="#da8cea"/>
<circle cx="265" cy="92" r="9" fill="#ff1428"/><circle cx="250" cy="100" r="12" fill="#c474e6"/>
<circle cx="172" cy="149" r="33" fill="#e8168a"/><circle cx="172" cy="149" r="29" fill="#ff1428"/><circle cx="172" cy="149" r="24" fill="#fff000"/><circle cx="172" cy="149" r="19" fill="#28d828"/><circle cx="172" cy="149" r="15" fill="#30e2f0"/><circle cx="172" cy="149" r="10" fill="#0000b4"/>
<circle cx="217" cy="122" r="34" fill="#e8168a"/><circle cx="217" cy="122" r="30" fill="#ff1428"/><circle cx="217" cy="122" r="25" fill="#fff000"/><circle cx="217" cy="122" r="20" fill="#28d828"/><circle cx="217" cy="122" r="16" fill="#30e2f0"/><circle cx="217" cy="122" r="11" fill="#0000b4"/>
</g></g>
<g clip-path="url(#k1)"><g filter="url(#f5)">
<rect x="220" y="-15" width="100" height="110" fill="#b052dc"/>
<circle cx="262" cy="35" r="20" fill="#ff7a00"/><circle cx="250" cy="18" r="15" fill="#ff1428"/><circle cx="240" cy="4" r="10" fill="#28d828"/><circle cx="288" cy="35" r="15" fill="#fff000"/><circle cx="275" cy="58" r="14" fill="#ff1428"/>
</g></g>
<g clip-path="url(#k2)"><g filter="url(#f5)">
<rect x="285" y="-15" width="200" height="150" fill="#da8cea"/>
<circle cx="330" cy="70" r="26" fill="#b052dc"/><circle cx="312" cy="40" r="12" fill="#ff1428"/><circle cx="388" cy="55" r="16" fill="#ff1428"/><circle cx="398" cy="65" r="10" fill="#fff000"/><circle cx="420" cy="85" r="22" fill="#b052dc"/><circle cx="448" cy="28" r="20" fill="#b052dc"/><circle cx="458" cy="58" r="10" fill="#ff1428"/><circle cx="462" cy="95" r="12" fill="#ff7a00"/>
</g></g>
<g clip-path="url(#k3)"><g filter="url(#f5)">
<rect x="345" y="85" width="135" height="155" fill="#da8cea"/>
<circle cx="402" cy="118" r="14" fill="#ff1428"/><circle cx="395" cy="150" r="22" fill="#b052dc"/><circle cx="452" cy="140" r="14" fill="#ff1428"/><circle cx="460" cy="190" r="20" fill="#b052dc"/>
</g></g>
<g clip-path="url(#k4)"><g filter="url(#f5)">
<rect x="250" y="175" width="140" height="100" fill="#b052dc"/>
<circle cx="305" cy="215" r="28" fill="#d080ee"/><circle cx="345" cy="235" r="22" fill="#c070e8"/>
</g></g>
<g clip-path="url(#k5)"><g filter="url(#f5)">
<rect x="375" y="205" width="105" height="95" fill="#da8cea"/><circle cx="420" cy="250" r="20" fill="#c478ea"/>
</g></g>
<g clip-path="url(#k6)"><g filter="url(#f5)">
<rect x="210" y="235" width="140" height="65" fill="#b052dc"/>
<circle cx="250" cy="278" r="16" fill="#ff1428"/><circle cx="262" cy="290" r="12" fill="#fff000"/><circle cx="290" cy="270" r="16" fill="#e8168a"/><circle cx="320" cy="282" r="14" fill="#ff1428"/>
</g></g>
<use href="#ovl" xlink:href="#ovl"/>
<rect x="99" y="0" width="108" height="37" fill="#f2f2f2"/>
<text x="103" y="29" font-size="27" textLength="102" lengthAdjust="spacingAndGlyphs">10-15 m</text>
<text x="17" y="106" font-size="38" textLength="24" lengthAdjust="spacingAndGlyphs">N</text>
<text x="27" y="267" font-size="30" textLength="80" lengthAdjust="spacingAndGlyphs">500 m</text>
<text x="283" y="24" font-size="28" text-anchor="middle" class="w">B</text>
<text x="325" y="287" font-size="28" text-anchor="middle" class="w">B′</text>
<text x="125" y="157" font-size="27" text-anchor="middle" class="w" transform="rotate(-12 125 147)">A</text>
<text x="306" y="113" font-size="27" text-anchor="middle" class="w" transform="rotate(-12 306 103)">A′</text>
</g></g>

<!-- panel d -->
<g transform="translate(614,1268)"><g clip-path="url(#mc)">
<use href="#aer" xlink:href="#aer"/>
<g clip-path="url(#kL)"><g filter="url(#f2)">
<rect x="125" y="60" width="185" height="130" fill="#da8cea"/>
<circle cx="255" cy="89" r="12" fill="#ff1428"/><circle cx="272" cy="86" r="8" fill="#ff7a00"/><circle cx="290" cy="96" r="9" fill="#fff000"/><circle cx="238" cy="96" r="9" fill="#e8168a"/><circle cx="149" cy="160" r="9" fill="#ff1428"/><circle cx="200" cy="125" r="24" fill="#d288ee"/><circle cx="170" cy="110" r="14" fill="#c880ea"/>
</g></g>
<g clip-path="url(#k1)"><g filter="url(#f5)">
<rect x="220" y="-15" width="100" height="110" fill="#12a2f0"/>
<circle cx="242" cy="14" r="17" fill="#0000b4"/><circle cx="252" cy="38" r="14" fill="#0058e6"/><circle cx="278" cy="55" r="17" fill="#30e2f0"/><circle cx="250" cy="70" r="11" fill="#28d828"/>
</g></g>
<g clip-path="url(#k2)"><g filter="url(#f5)">
<rect x="285" y="-15" width="200" height="150" fill="#ff7a00"/>
<circle cx="310" cy="45" r="18" fill="#ff1428"/><circle cx="330" cy="78" r="18" fill="#b052dc"/><circle cx="352" cy="28" r="16" fill="#fff000"/><circle cx="372" cy="70" r="19" fill="#ff1428"/><circle cx="392" cy="28" r="16" fill="#30e2f0"/><circle cx="412" cy="62" r="17" fill="#fff000"/><circle cx="432" cy="18" r="15" fill="#28d828"/><circle cx="448" cy="62" r="17" fill="#30e2f0"/><circle cx="462" cy="100" r="14" fill="#b052dc"/><circle cx="420" cy="98" r="13" fill="#12a2f0"/><circle cx="340" cy="102" r="14" fill="#fff000"/><circle cx="465" cy="25" r="11" fill="#ff1428"/>
</g></g>
<g clip-path="url(#k3)"><g filter="url(#f5)">
<rect x="345" y="85" width="135" height="155" fill="#12a2f0"/>
<circle cx="375" cy="130" r="17" fill="#ff1428"/><circle cx="396" cy="152" r="17" fill="#30e2f0"/><circle cx="414" cy="115" r="15" fill="#fff000"/><circle cx="440" cy="162" r="20" fill="#b052dc"/><circle cx="455" cy="207" r="17" fill="#ff1428"/><circle cx="463" cy="133" r="14" fill="#30e2f0"/><circle cx="380" cy="178" r="17" fill="#b052dc"/><circle cx="420" cy="188" r="14" fill="#e8168a"/>
</g></g>
<g clip-path="url(#k4)"><g filter="url(#f5)">
<rect x="250" y="175" width="140" height="100" fill="#ff1428"/>
<circle cx="278" cy="215" r="21" fill="#30e2f0"/><circle cx="285" cy="247" r="17" fill="#12a2f0"/><circle cx="322" cy="225" r="19" fill="#b052dc"/><circle cx="352" cy="205" r="16" fill="#e8168a"/><circle cx="312" cy="254" r="12" fill="#fff000"/><circle cx="356" cy="250" r="14" fill="#b052dc"/>
</g></g>
<g clip-path="url(#k5)"><g filter="url(#f5)">
<rect x="375" y="205" width="105" height="95" fill="#da8cea"/><circle cx="420" cy="252" r="22" fill="#b052dc"/>
</g></g>
<g clip-path="url(#k6)"><g filter="url(#f5)">
<rect x="210" y="235" width="140" height="65" fill="#ff1428"/>
<circle cx="240" cy="268" r="16" fill="#fff000"/><circle cx="262" cy="288" r="16" fill="#30e2f0"/><circle cx="302" cy="287" r="16" fill="#0058e6"/><circle cx="282" cy="265" r="13" fill="#ff7a00"/>
</g></g>
<use href="#ovl" xlink:href="#ovl"/>
<rect x="82" y="0" width="110" height="37" fill="#f2f2f2"/>
<text x="86" y="29" font-size="27" textLength="102" lengthAdjust="spacingAndGlyphs">20-25 m</text>
<text x="17" y="106" font-size="38" textLength="24" lengthAdjust="spacingAndGlyphs">N</text>
<text x="27" y="267" font-size="30" textLength="80" lengthAdjust="spacingAndGlyphs">500 m</text>
<text x="283" y="24" font-size="28" text-anchor="middle" class="w">B</text>
<text x="325" y="287" font-size="28" text-anchor="middle" class="w">B′</text>
<text x="125" y="157" font-size="27" text-anchor="middle" class="w" transform="rotate(-12 125 147)">A</text>
<text x="306" y="113" font-size="27" text-anchor="middle" class="w" transform="rotate(-12 306 103)">A′</text>
</g></g>

<!-- panel e -->
<g transform="translate(1086,1268)"><g clip-path="url(#mc)">
<use href="#aer" xlink:href="#aer"/>
<g clip-path="url(#kL)"><g filter="url(#f2)">
<rect x="125" y="60" width="185" height="130" fill="#d486ec"/>
<circle cx="146" cy="108" r="15" fill="#0058e6"/><circle cx="146" cy="140" r="15" fill="#30e2f0"/><circle cx="152" cy="164" r="12" fill="#fff000"/><circle cx="160" cy="124" r="9" fill="#28d828"/><circle cx="165" cy="160" r="11" fill="#ff1428"/><circle cx="180" cy="154" r="12" fill="#ff7a00"/><circle cx="166" cy="92" r="13" fill="#ff1428"/><circle cx="210" cy="126" r="20" fill="#c060e0"/><circle cx="252" cy="140" r="16" fill="#e8168a"/><circle cx="276" cy="100" r="14" fill="#ff1428"/><circle cx="286" cy="126" r="13" fill="#0058e6"/><circle cx="292" cy="94" r="9" fill="#fff000"/><circle cx="240" cy="88" r="11" fill="#ff1428"/><circle cx="200" cy="160" r="11" fill="#fff000"/><circle cx="215" cy="152" r="7" fill="#0058e6"/>
</g></g>
<g clip-path="url(#k1)"><g filter="url(#f5)">
<rect x="220" y="-15" width="100" height="110" fill="#0058e6"/>
<circle cx="245" cy="6" r="13" fill="#ff1428"/><circle cx="252" cy="24" r="9" fill="#fff000"/><circle cx="262" cy="47" r="17" fill="#12a2f0"/><circle cx="300" cy="30" r="12" fill="#30e2f0"/>
</g></g>
<g clip-path="url(#k2)"><g filter="url(#f5)">
<rect x="285" y="-15" width="200" height="150" fill="#30e2f0"/>
<circle cx="315" cy="40" r="17" fill="#28d828"/><circle cx="330" cy="82" r="17" fill="#fff000"/><circle cx="356" cy="28" r="17" fill="#12a2f0"/><circle cx="376" cy="62" r="17" fill="#0058e6"/><circle cx="402" cy="38" r="15" fill="#28d828"/><circle cx="420" cy="82" r="17" fill="#fff000"/><circle cx="440" cy="102" r="14" fill="#ff7a00"/><circle cx="448" cy="60" r="15" fill="#ff1428"/><circle cx="462" cy="18" r="14" fill="#30e2f0"/><circle cx="390" cy="102" r="14" fill="#30e2f0"/>
</g></g>
<g clip-path="url(#k3)"><g filter="url(#f5)">
<rect x="345" y="85" width="135" height="155" fill="#fff000"/>
<circle cx="380" cy="140" r="17" fill="#ff7a00"/><circle cx="402" cy="118" r="15" fill="#28d828"/><circle cx="422" cy="108" r="14" fill="#30e2f0"/><circle cx="390" cy="170" r="15" fill="#ff1428"/><circle cx="374" cy="184" r="15" fill="#b052dc"/><circle cx="406" cy="188" r="15" fill="#e8168a"/><circle cx="462" cy="160" r="18" fill="#0058e6"/><circle cx="456" cy="207" r="15" fill="#12a2f0"/><circle cx="440" cy="135" r="14" fill="#ff1428"/>
</g></g>
<g clip-path="url(#k4)"><g filter="url(#f5)">
<rect x="250" y="175" width="140" height="100" fill="#fff000"/>
<circle cx="275" cy="220" r="21" fill="#0058e6"/><circle cx="285" cy="252" r="17" fill="#12a2f0"/><circle cx="330" cy="220" r="17" fill="#ff7a00"/><circle cx="350" cy="244" r="17" fill="#ff1428"/><circle cx="368" cy="212" r="12" fill="#0058e6"/>
</g></g>
<g clip-path="url(#k5)"><g filter="url(#f5)">
<rect x="375" y="205" width="105" height="95" fill="#ff1428"/>
<circle cx="430" cy="250" r="17" fill="#e8168a"/><circle cx="460" cy="272" r="17" fill="#b052dc"/><circle cx="408" cy="238" r="14" fill="#ff7a00"/>
</g></g>
<g clip-path="url(#k6)"><g filter="url(#f5)">
<rect x="210" y="235" width="140" height="65" fill="#ff1428"/>
<circle cx="250" cy="260" r="14" fill="#ff7a00"/><circle cx="270" cy="276" r="14" fill="#fff000"/><circle cx="238" cy="288" r="14" fill="#30e2f0"/><circle cx="302" cy="288" r="17" fill="#0058e6"/>
</g></g>
<use href="#ovl" xlink:href="#ovl"/>
<rect x="86" y="0" width="108" height="37" fill="#f2f2f2"/>
<text x="90" y="29" font-size="27" textLength="102" lengthAdjust="spacingAndGlyphs">30-35 m</text>
<text x="17" y="106" font-size="38" textLength="24" lengthAdjust="spacingAndGlyphs">N</text>
<text x="27" y="267" font-size="30" textLength="80" lengthAdjust="spacingAndGlyphs">500 m</text>
<text x="283" y="24" font-size="28" text-anchor="middle" class="w">B</text>
<text x="325" y="287" font-size="28" text-anchor="middle" class="w">B′</text>
<text x="125" y="157" font-size="27" text-anchor="middle" class="w" transform="rotate(-12 125 147)">A</text>
<text x="306" y="113" font-size="27" text-anchor="middle" class="w" transform="rotate(-12 306 103)">A′</text>
</g></g>

<!-- panel f -->
<g transform="translate(1560,1268)"><g clip-path="url(#mc)">
<use href="#aer" xlink:href="#aer"/>
<g clip-path="url(#kL)"><g filter="url(#f2)">
<rect x="125" y="60" width="185" height="130" fill="#28d828"/>
<circle cx="163" cy="113" r="17" fill="#fff000"/><circle cx="200" cy="104" r="17" fill="#ff1428"/><circle cx="224" cy="122" r="18" fill="#b052dc"/><circle cx="190" cy="140" r="15" fill="#e8168a"/><circle cx="246" cy="136" r="15" fill="#28d828"/><circle cx="262" cy="100" r="14" fill="#30e2f0"/><circle cx="283" cy="130" r="14" fill="#ff1428"/><circle cx="232" cy="156" r="13" fill="#b052dc"/><circle cx="215" cy="90" r="11" fill="#ff7a00"/><circle cx="290" cy="104" r="9" fill="#fff000"/><circle cx="168" cy="160" r="11" fill="#fff000"/>
</g></g>
<g clip-path="url(#k1)"><g filter="url(#f5)">
<rect x="220" y="-15" width="100" height="110" fill="#12a2f0"/>
<circle cx="245" cy="20" r="14" fill="#30e2f0"/><circle cx="262" cy="52" r="17" fill="#0058e6"/><circle cx="292" cy="40" r="12" fill="#30e2f0"/>
</g></g>
<g clip-path="url(#k2)"><g filter="url(#f5)">
<rect x="285" y="-15" width="200" height="150" fill="#28d828"/>
<circle cx="320" cy="50" r="17" fill="#fff000"/><circle cx="340" cy="82" r="17" fill="#b4f020"/><circle cx="380" cy="28" r="17" fill="#fff000"/><circle cx="402" cy="60" r="15" fill="#30e2f0"/><circle cx="450" cy="82" r="18" fill="#ff7a00"/><circle cx="410" cy="102" r="17" fill="#ff7a00"/><circle cx="462" cy="18" r="12" fill="#fff000"/><circle cx="440" cy="45" r="12" fill="#ff1428"/>
</g></g>
<g clip-path="url(#k3)"><g filter="url(#f5)">
<rect x="345" y="85" width="135" height="155" fill="#ff7a00"/>
<circle cx="400" cy="140" r="17" fill="#ff1428"/><circle cx="430" cy="128" r="15" fill="#fff000"/><circle cx="420" cy="162" r="12" fill="#e8168a"/><circle cx="452" cy="177" r="15" fill="#ff1428"/><circle cx="368" cy="172" r="17" fill="#28d828"/><circle cx="378" cy="126" r="15" fill="#fff000"/><circle cx="460" cy="212" r="12" fill="#30e2f0"/>
</g></g>
<g clip-path="url(#k4)"><g filter="url(#f5)">
<rect x="250" y="175" width="140" height="100" fill="#fff000"/>
<circle cx="275" cy="225" r="19" fill="#12a2f0"/><circle cx="290" cy="252" r="14" fill="#30e2f0"/><circle cx="322" cy="213" r="17" fill="#28d828"/><circle cx="342" cy="242" r="17" fill="#ff1428"/><circle cx="362" cy="218" r="14" fill="#ff7a00"/>
</g></g>
<g clip-path="url(#k5)"><g filter="url(#f5)">
<rect x="375" y="205" width="105" height="95" fill="#ff7a00"/>
<circle cx="430" cy="262" r="17" fill="#fff000"/><circle cx="408" cy="238" r="14" fill="#28d828"/><circle cx="446" cy="244" r="12" fill="#30e2f0"/><circle cx="462" cy="274" r="14" fill="#ff1428"/>
</g></g>
<g clip-path="url(#k6)"><g filter="url(#f5)">
<rect x="210" y="235" width="140" height="65" fill="#28d828"/>
<circle cx="260" cy="270" r="17" fill="#fff000"/><circle cx="300" cy="282" r="14" fill="#30e2f0"/><circle cx="238" cy="260" r="14" fill="#b4f020"/><circle cx="324" cy="264" r="12" fill="#fff000"/>
</g></g>
<use href="#ovl" xlink:href="#ovl"/>
<rect x="96" y="0" width="110" height="37" fill="#f2f2f2"/>
<text x="100" y="29" font-size="27" textLength="102" lengthAdjust="spacingAndGlyphs">40-45 m</text>
<text x="17" y="106" font-size="38" textLength="24" lengthAdjust="spacingAndGlyphs">N</text>
<text x="27" y="267" font-size="30" textLength="80" lengthAdjust="spacingAndGlyphs">500 m</text>
<text x="283" y="24" font-size="28" text-anchor="middle" class="w">B</text>
<text x="325" y="287" font-size="28" text-anchor="middle" class="w">B′</text>
<text x="125" y="157" font-size="27" text-anchor="middle" class="w" transform="rotate(-12 125 147)">A</text>
<text x="306" y="113" font-size="27" text-anchor="middle" class="w" transform="rotate(-12 306 103)">A′</text>
</g></g>
</svg>
</body></html>
